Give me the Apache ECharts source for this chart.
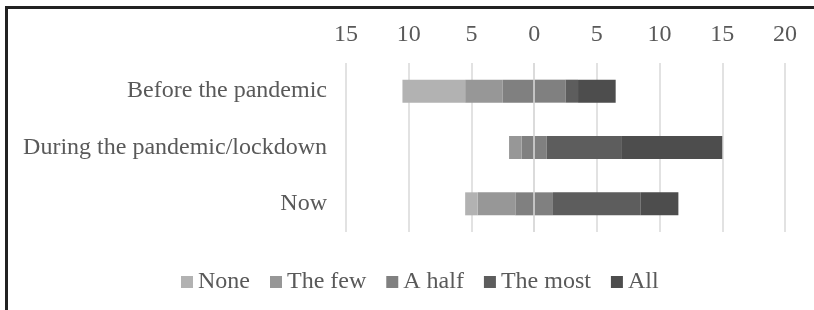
<!DOCTYPE html>
<html>
<head>
<meta charset="utf-8">
<script src="https://cdn.jsdelivr.net/npm/echarts@6/dist/echarts.min.js"></script>
<style>
  html, body { margin: 0; padding: 0; background: #fff; }
  #chart { width: 814px; height: 310px; position: relative; }
  #frame {
    position: absolute; left: 5px; top: 6px; width: 900px; height: 400px;
    border-left: 3px solid #222; border-top: 3px solid #222; pointer-events: none;
  }
</style>
</head>
<body>
<div id="chart"></div>
<div id="frame"></div>
<script>
  // categories, top to bottom
  var periods = ['Before the pandemic', 'During the pandemic/lockdown', 'Now'];
  // answer counts per period
  var none = [5, 0, 1];
  var theFew = [3, 1, 3];
  var aHalf = [5, 2, 3];
  var theMost = [1, 6, 7];
  var all = [3, 8, 3];
  var ticks = [-15, -10, -5, 0, 5, 10, 15, 20];

  var colors = {
    'None': '#b2b2b2',
    'The few': '#979797',
    'A half': '#808080',
    'The most': '#5d5d5d',
    'All': '#4d4d4d'
  };
  var font = 'Liberation Serif';

  function neg(arr) { return arr.map(function (v) { return -v; }); }
  function half(arr, sign) { return arr.map(function (v) { return sign * v / 2; }); }

  function bar(name, data) {
    return {
      name: name,
      type: 'bar',
      stack: 'total',
      barWidth: 23,
      data: data,
      itemStyle: { color: colors[name] },
      emphasis: { disabled: true }
    };
  }

  var myChart = echarts.init(document.getElementById('chart'));
  // negative side stacks outward from zero: half of "A half", then the few, then none
  var halfPos = bar('A half', half(aHalf, 1));
  halfPos.markLine = {
    silent: true,
    symbol: 'none',
    label: { show: false },
    lineStyle: { color: '#d9d9d9', type: 'solid', width: 1.5 },
    data: [{ xAxis: 0 }]
  };
  var option = {
    animation: false,
    textStyle: { fontFamily: font },
    grid: { left: 346, right: 29, top: 63, height: 169 },
    legend: {
      data: ['None', 'The few', 'A half', 'The most', 'All'],
      left: 176,
      top: 265,
      icon: 'rect',
      itemWidth: 12,
      itemHeight: 12,
      itemGap: 20,
      textStyle: { fontFamily: font, fontSize: 24, color: '#595959' }
    },
    xAxis: {
      type: 'value',
      position: 'top',
      min: -15,
      max: 20,
      interval: 5,
      axisLine: { show: false },
      axisTick: { show: false },
      axisLabel: {
        margin: 16,
        fontFamily: font,
        fontSize: 24,
        color: '#595959',
        formatter: function (v) { return ticks.indexOf(v) >= 0 ? String(Math.abs(v)) : ''; }
      },
      splitLine: { lineStyle: { color: '#d9d9d9', width: 1.5 } }
    },
    yAxis: {
      type: 'category',
      data: periods,
      inverse: true,
      axisLine: { show: false },
      axisTick: { show: false },
      axisLabel: { margin: 19, fontFamily: font, fontSize: 24, color: '#595959' }
    },
    series: [
      bar('A half', half(aHalf, -1)),
      bar('The few', neg(theFew)),
      bar('None', neg(none)),
      halfPos,
      bar('The most', theMost),
      bar('All', all)
    ]
  };
  myChart.setOption(option);
</script>
</body>
</html>
